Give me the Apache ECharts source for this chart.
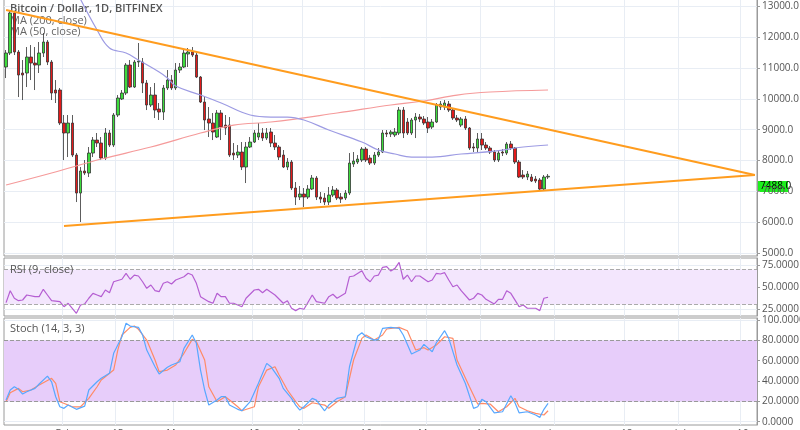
<!DOCTYPE html>
<html><head><meta charset="utf-8">
<script src="https://cdn.jsdelivr.net/npm/echarts@6/dist/echarts.min.js"></script>
<style>html,body{margin:0;padding:0;background:#fff;overflow:hidden}#c{width:800px;height:430px}</style>
</head><body><div id="c"></div><script>
// ---------- data ----------
const candleOpen = [11036,11490,12789,11523,10841,10841,11360,11165,11100,11490,
11847,11198,10289,10289,9217,8893,9217,8178,6944,7659,
7594,8243,8665,8568,8081,8893,8503,9477,9997,10191,
11100,10386,11198,11198,10516,9802,10126,9672,9574,10354,
10613,10354,10938,11036,11458,11523,11425,10711,9899,9347,
9217,8763,9542,9152,9152,8243,8178,8276,7789,8438,
8600,8763,8893,8730,8925,8568,8438,8178,7789,7951,
7107,6814,6912,6814,7074,7431,6814,6782,6652,6879,
7042,6814,6782,6944,7886,7951,8016,8373,8081,7918,
8178,8276,8893,8860,8828,8893,9639,9250,8893,9315,
9412,9347,9250,9087,9250,9737,9737,9834,9639,9379,
9152,9347,9055,8438,8405,8698,8503,8405,8276,8016,
8276,8243,8535,8405,7951,7529,7464,7464,7399,7366,
7074,7464];
const candleClose = [11490,12789,11523,10776,10776,11360,11165,11100,11490,11847,
11198,10191,10191,9217,8893,9217,8178,6944,7659,7594,
8243,8665,8568,8081,8893,8503,9477,10029,10191,11100,
10386,11198,11230,10516,9802,10126,9639,9574,10354,10613,
10354,10938,11036,11490,11523,11425,10711,9899,9315,9217,
8925,9542,9087,9055,8178,8178,8276,7789,8438,8600,
8893,8893,8730,8893,8568,8438,8113,7789,7951,7107,
6814,6912,6814,7074,7431,6814,6750,6652,6879,7042,
6782,6750,6944,7918,7983,8048,8373,8016,7918,8178,
8276,8893,8860,8925,8925,9639,8893,8893,9315,9412,
9347,9217,9055,9250,9802,9834,9867,9639,9379,9315,
9347,9055,8405,8405,8698,8503,8405,8276,8016,8243,
8243,8535,8405,7951,7464,7464,7561,7334,7334,7074,
7464,7488];
const candleLow = [10678,11425,11425,10061,9964,10386,10613,10289,10841,11360,
11100,9964,9867,9152,8016,8113,8113,6652,6003,7529,
7464,8113,8438,8016,8016,8438,8438,9412,9964,10126,
10354,10354,11036,10191,9639,9737,9379,9315,9315,10289,
10289,10289,10841,11003,11036,11360,10678,9867,8990,8763,
8665,8730,8665,8828,8113,8016,8081,7691,7269,8405,
8568,8665,8633,8665,8438,8341,8016,7756,7691,7042,
6555,6717,6490,6750,7042,6717,6620,6555,6555,6814,
6717,6620,6717,6879,7789,7886,7951,7951,7854,7854,
8113,8243,8763,8763,8763,8828,8730,8828,8828,8730,
9250,9152,8893,9022,9217,9639,9639,9574,9315,9250,
9087,8990,8341,8276,8276,8341,8341,8211,7951,7951,
8146,8178,8341,7886,7431,7399,7366,7302,7269,7042,
7042,7399];
const candleHigh = [11588,12886,12854,11588,11263,11685,11750,11685,11847,12140,
11912,11263,10613,10354,9477,9477,9477,8243,7789,8016,
8438,8763,8893,8763,9055,8990,9542,10126,10289,11165,
11263,11263,11815,11328,10613,10386,10516,9867,10451,10938,
10776,11165,11165,11588,11652,11685,11490,10743,10061,9737,
9542,9639,9639,9477,9412,8568,8503,8600,8600,8763,
8990,9217,9055,9055,9055,8828,8503,8341,8081,8016,
7302,7172,7107,7204,7529,7496,6977,6944,7139,7172,
7107,6944,7042,8243,8276,8178,8438,8438,8178,8276,
8405,8990,8990,8990,9055,9737,9737,9379,9379,9542,
9509,9444,9412,9347,9867,9932,9964,9932,9704,9477,
9412,9444,9087,8568,8893,8893,8600,8470,8341,8341,
8373,8600,8633,8438,8016,7691,7659,7561,7496,7431,
7529,7561];
// moving averages, sampled [candle index, value]
const ma200 = [[0,7204],[11,7594],[23,8048],[35,8438],[47,8893],[55,9152],[64,9250],[80,9542],[93,9802],[101,9932],[109,10126],[117,10224],[131,10289]];
const ma50 = [[17,13500],[22,12237],[25,11652],[29,11490],[32,11263],[37,10873],[39,10678],[41,10419],[47,10126],[52,9867],[59,9477],[64,9412],[68,9412],[72,9315],[78,8990],[86,8600],[90,8341],[94,8211],[98,8113],[103,8113],[110,8211],[118,8308],[125,8438],[131,8503]];
// trend lines [index, price]
const upperTrend = [[0,12886],[181,7529]];
const lowerTrend = [[14,5873],[181,7529]];
const lastPrice = 7488.0;
// RSI (9) sampled [index, value]
const rsi = [[0,32.2],[1,45.8],[2,37.2],[3,34.4],[4,35.2],[5,40.9],[7,39.0],[8,39.0],[9,47.4],[10,40.9],[11,34.4],[13,33.3],[14,27.6],[15,31.5],[16,25.8],[17,20.1],[18,29.5],[19,30.7],[20,37.2],[21,42.8],[22,40.9],[23,39.0],[24,46.6],[25,43.5],[26,56.0],[28,58.8],[29,65.6],[30,58.8],[31,63.6],[32,62.5],[33,56.0],[34,48.5],[35,52.3],[36,45.8],[37,44.7],[38,54.2],[39,56.0],[40,53.4],[41,58.0],[43,61.7],[44,65.6],[45,63.6],[46,54.2],[47,39.0],[49,33.3],[50,31.5],[51,42.8],[52,39.0],[53,39.0],[54,31.5],[55,31.5],[57,27.6],[58,37.2],[60,46.6],[61,47.4],[62,43.5],[63,47.4],[65,40.9],[67,31.5],[68,34.4],[69,25.8],[70,23.1],[71,25.8],[72,24.7],[74,40.9],[75,33.3],[77,31.5],[78,39.0],[79,41.7],[80,37.2],[82,42.8],[83,61.7],[84,62.5],[86,68.5],[87,59.9],[88,56.0],[89,62.5],[90,63.6],[91,72.4],[92,73.1],[93,68.2],[94,71.2],[95,78.1],[96,58.8],[97,63.6],[98,56.0],[99,62.5],[100,62.5],[102,56.0],[103,58.0],[104,65.6],[105,64.8],[106,66.3],[107,58.0],[108,50.3],[109,52.3],[110,45.8],[112,35.2],[113,37.2],[114,42.8],[115,40.9],[116,36.0],[118,30.7],[119,36.0],[120,36.0],[121,45.8],[122,42.8],[124,27.6],[125,29.5],[126,25.8],[128,25.8],[129,23.1],[130,37.2],[131,38.3]];
// Stoch (14,3,3) sampled [index, value]
const stochK = [[0,21.3],[1,31.2],[2,34.4],[3,31.9],[4,27.2],[5,29.5],[7,32.8],[8,37.1],[10,44.9],[11,39.3],[12,24.6],[13,14.7],[14,13.2],[15,16.4],[17,12.2],[19,15.4],[20,31.2],[22,39.3],[23,42.7],[25,47.6],[26,67.3],[28,83.6],[29,96.8],[30,94.1],[32,92.8],[33,85.3],[34,70.5],[36,54.1],[37,46.9],[39,53.5],[40,55.8],[42,59.0],[43,72.2],[45,85.3],[46,77.1],[47,50.8],[48,31.2],[49,16.4],[51,21.3],[52,24.6],[53,24.6],[54,16.4],[56,12.2],[57,10.8],[59,19.7],[61,37.8],[63,57.4],[64,54.1],[66,42.7],[67,32.8],[69,23.0],[70,16.4],[71,11.5],[72,14.7],[74,23.0],[75,21.3],[77,10.8],[78,16.4],[80,23.0],[82,24.6],[83,54.1],[85,84.3],[86,87.5],[87,83.6],[89,80.3],[90,81.0],[91,91.8],[93,92.8],[95,91.8],[96,85.3],[98,66.6],[100,70.5],[101,76.1],[103,68.8],[104,77.7],[106,89.5],[107,82.0],[109,55.8],[111,37.8],[113,13.2],[114,14.7],[115,22.0],[116,19.7],[118,8.8],[120,9.8],[122,25.6],[123,18.7],[124,8.8],[126,9.8],[128,6.6],[129,4.3],[130,12.2],[131,18.1]];
const stochD = [[0,19.7],[1,28.5],[3,32.8],[4,29.5],[6,31.2],[8,36.1],[11,42.7],[12,37.8],[13,19.7],[15,16.4],[16,14.7],[18,14.7],[20,23.0],[22,34.4],[23,41.0],[26,50.8],[27,70.5],[28,85.3],[30,92.8],[31,94.1],[32,90.9],[34,80.3],[36,60.7],[37,49.2],[39,50.8],[41,55.8],[43,67.3],[45,81.0],[46,78.7],[48,60.7],[49,34.4],[51,19.7],[53,24.6],[54,21.3],[56,14.7],[57,10.8],[60,14.7],[61,34.4],[63,50.8],[65,54.1],[66,45.9],[68,31.2],[70,19.7],[71,14.7],[72,13.2],[74,18.7],[77,16.4],[78,13.2],[80,19.7],[82,24.6],[84,60.7],[86,82.0],[87,85.3],[89,80.3],[91,85.3],[92,91.2],[95,92.8],[97,89.5],[99,70.5],[101,72.8],[102,70.5],[104,75.4],[106,83.6],[108,82.0],[109,60.7],[112,34.4],[114,17.4],[115,18.1],[117,17.4],[119,9.8],[121,14.7],[123,23.0],[124,14.7],[126,10.8],[128,8.3],[130,6.6],[131,10.8]];
// axes
const priceTicks = [5000,6000,7000,8000,9000,10000,11000,12000,13000];
const rsiTicks = [25,50,75];
const stochTicks = [0,20,40,60,80,100];
const xTickIndex = [14,27,41,60,72,87,102,115,133,150,163,178];
const xTickLabels = ['Feb','15','Mar','19','Apr','16','May','14','Jun','18','Jul','16'];
const slotCount = 182;
const categories = [];
for (let i = 0; i < slotCount; i++) {
  const d = new Date(Date.UTC(2018, 0, 19 + i));
  categories.push(d.toISOString().slice(0, 10));
}
const candles = candleOpen.map((o, i) => [o, candleClose[i], candleLow[i], candleHigh[i]]);

// ---------- chart ----------
const chart = echarts.init(document.getElementById('c'), null, {renderer: 'canvas'});
const gridLine = '#e8edf4';
const isTick = (i) => xTickIndex.indexOf(i) >= 0;
function xAx(gi, showLabel) {
  return {
    type: 'category', gridIndex: gi, data: categories, boundaryGap: true,
    axisLine: {show: false}, axisTick: {show: false},
    axisLabel: showLabel ? {
      show: true, interval: (i) => isTick(i), color: '#555', fontSize: 10, margin: 4,
      fontFamily: 'Open Sans, DejaVu Sans, sans-serif',
      formatter: (v, i) => { const k = xTickIndex.indexOf(i); return k >= 0 ? xTickLabels[k] : ''; }
    } : {show: false},
    splitLine: {show: true, interval: (i) => isTick(i), lineStyle: {color: gridLine, width: 1}}
  };
}
function yAx(gi, min, max, ticks, dec) {
  return {
    type: 'value', gridIndex: gi, position: 'right', min: min, max: max, scale: true,
    axisLine: {show: true, lineStyle: {color: '#9a9a9a'}},
    axisTick: {show: true, length: 3, lineStyle: {color: '#9a9a9a'}, customValues: ticks},
    axisLabel: {show: true, color: '#555', fontSize: 10, margin: 5, customValues: ticks,
      fontFamily: 'Open Sans, DejaVu Sans, sans-serif',
      formatter: (v) => Number(v).toFixed(dec)},
    splitLine: {show: true, lineStyle: {color: gridLine, width: 1}}
  };
}
const gridBase = {left: 4, right: 43, show: true, borderColor: '#9a9a9a', borderWidth: 1, containLabel: false, outerBoundsMode: 'none'};
const option = {
  animation: false,
  backgroundColor: '#ffffff',
  grid: [
    Object.assign({}, gridBase, {top: -1, height: 257}),
    Object.assign({}, gridBase, {top: 258, height: 58}),
    Object.assign({}, gridBase, {top: 318, height: 107})
  ],
  xAxis: [xAx(0, false), xAx(1, false), xAx(2, true)],
  yAxis: [
    yAx(0, 4900, 13244, priceTicks, 1),
    yAx(1, 17, 83, rsiTicks, 4),
    yAx(2, -3.2, 102, stochTicks, 4)
  ],
  graphic: [
    {type: 'text', left: 10, top: 3, z: 1, style: {text: 'Bitcoin / Dollar, 1D, BITFINEX', fill: '#555', font: '600 11px "Open Sans", "DejaVu Sans", sans-serif'}},
    {type: 'text', left: 10, top: 15, z: 1, style: {text: 'MA (200, close)', fill: '#666', font: '11px "Open Sans", "DejaVu Sans", sans-serif'}},
    {type: 'text', left: 10, top: 26, z: 1, style: {text: 'MA (50, close)', fill: '#666', font: '11px "Open Sans", "DejaVu Sans", sans-serif'}},
    {type: 'text', left: 10, top: 264, z: 50, style: {text: 'RSI (9, close)', fill: '#555', font: '11px "Open Sans", "DejaVu Sans", sans-serif'}},
    {type: 'text', left: 10, top: 323, z: 50, style: {text: 'Stoch (14, 3, 3)', fill: '#555', font: '11px "Open Sans", "DejaVu Sans", sans-serif'}},
    {type: 'group', left: 757, top: 181, z: 100, children: [
      {type: 'rect', shape: {x: 0, y: 0, width: 31, height: 11}, style: {fill: '#1cf01c'}},
      {type: 'text', x: 3, y: 0.5, style: {text: lastPrice.toFixed(1), fill: '#000', font: '10px "Open Sans", "DejaVu Sans", sans-serif'}}
    ]}
  ],
  series: [
    {type: 'candlestick', xAxisIndex: 0, yAxisIndex: 0, data: candles, barWidth: 3,
     itemStyle: {color: '#3ddc3d', color0: '#e31a1a', borderColor: '#333', borderColor0: '#333', borderWidth: 0.8}, z: 2},
    {type: 'line', xAxisIndex: 0, yAxisIndex: 0, data: ma200, showSymbol: false, smooth: 0.4,
     lineStyle: {color: '#f59a9a', width: 1.2}, z: 3},
    {type: 'line', xAxisIndex: 0, yAxisIndex: 0, data: ma50, showSymbol: false, smooth: 0.4,
     lineStyle: {color: '#9d9be3', width: 1.2}, z: 3},
    {type: 'line', xAxisIndex: 0, yAxisIndex: 0, data: upperTrend, showSymbol: false,
     lineStyle: {color: '#ff9c1e', width: 2}, z: 4},
    {type: 'line', xAxisIndex: 0, yAxisIndex: 0, data: lowerTrend, showSymbol: false,
     lineStyle: {color: '#ff9c1e', width: 2}, z: 4},
    {type: 'line', xAxisIndex: 1, yAxisIndex: 1, data: rsi, showSymbol: false,
     lineStyle: {color: '#b55ed2', width: 1.2}, z: 4,
     markArea: {silent: true, itemStyle: {color: '#f3e6fd'}, data: [[{yAxis: 30}, {yAxis: 70}]]},
     markLine: {silent: true, symbol: 'none', label: {show: false},
       lineStyle: {color: '#aaa', type: 'dashed', width: 1}, data: [{yAxis: 70}, {yAxis: 30}]}},
    {type: 'line', xAxisIndex: 2, yAxisIndex: 2, data: stochK, showSymbol: false,
     lineStyle: {color: '#58a8ff', width: 1.2}, z: 5,
     markArea: {silent: true, itemStyle: {color: '#e7cdfa'}, data: [[{yAxis: 20}, {yAxis: 80}]]},
     markLine: {silent: true, symbol: 'none', label: {show: false},
       lineStyle: {color: '#999', type: 'dashed', width: 1}, data: [{yAxis: 80}, {yAxis: 20}]}},
    {type: 'line', xAxisIndex: 2, yAxisIndex: 2, data: stochD, showSymbol: false,
     lineStyle: {color: '#ff8a66', width: 1.2}, z: 4}
  ]
};
chart.setOption(option);
</script></body></html>
